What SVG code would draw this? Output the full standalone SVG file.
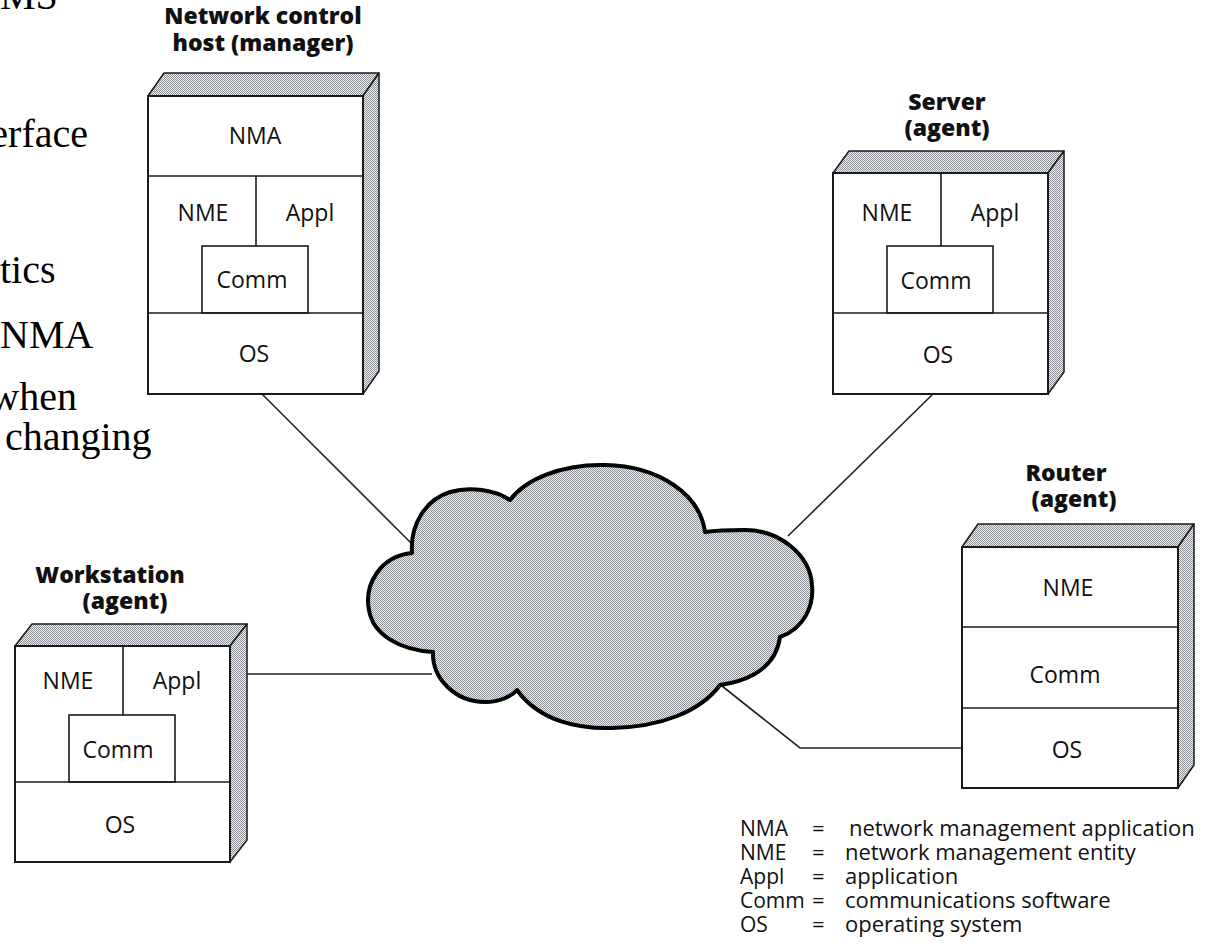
<svg xmlns="http://www.w3.org/2000/svg" width="1205" height="950" viewBox="0 0 1205 950">
<defs>
<pattern id="dots" width="2" height="2" patternUnits="userSpaceOnUse">
<rect width="2" height="2" fill="#eef0f2"/>
<rect x="0" y="0" width="1" height="1" fill="#8e9196"/>
<rect x="1" y="1" width="1" height="1" fill="#8e9196"/>
</pattern>
<style>
.face{fill:#fff;stroke:#1a1a1a;stroke-width:2}
.shade{fill:url(#dots);stroke:#1a1a1a;stroke-width:1.5;stroke-linejoin:round}
.div{stroke:#1a1a1a;stroke-width:1.6;fill:none}
.box{fill:#fff;stroke:#1a1a1a;stroke-width:1.6}
.lbl{font-family:"Open Sans","DejaVu Sans",sans-serif;font-size:23px;fill:#111;text-anchor:middle}
.ttl{font-family:"Open Sans","DejaVu Sans",sans-serif;font-size:23px;font-weight:800;fill:#111;text-anchor:middle}
.leg{font-family:"Open Sans","DejaVu Sans",sans-serif;font-size:22px;fill:#111}
.abbr{font-family:"Open Sans","DejaVu Sans",sans-serif;font-size:21px;fill:#111}
.slide{font-family:"Liberation Serif","Times New Roman",serif;font-size:40px;fill:#000}
.conn{stroke:#222;stroke-width:1.6;fill:none}
.cloud{fill:url(#dots);stroke:#000;stroke-width:4;stroke-linejoin:round}
</style>
</defs>
<rect width="1205" height="950" fill="#fff"/>

<g id="slide-text">
<text class="slide" x="0" y="9">MS</text>
<text class="slide" x="88" y="147" text-anchor="end">erface</text>
<text class="slide" x="0" y="283">tics</text>
<text class="slide" x="0" y="348">NMA</text>
<text class="slide" x="77" y="410" text-anchor="end">when</text>
<text class="slide" x="5" y="450">changing</text>
</g>

<g id="connectors">
<line class="conn" x1="262" y1="394" x2="411" y2="543"/>
<line class="conn" x1="933" y1="394" x2="788" y2="536"/>
<line class="conn" x1="247" y1="674" x2="432" y2="674"/>
<polyline class="conn" points="722,686 800,748 962,748"/>
</g>

<g id="network-cloud">
<path class="cloud" d="M 412 553 C 380 556, 364 585, 369 610 C 373 635, 400 650, 433 652 C 432 678, 455 702, 485 702 C 500 702, 512 696, 517 690 C 540 722, 580 729, 612 728 C 660 727, 700 712, 720 685 C 735 683, 775 675, 780 637 C 805 628, 814 605, 812 585 C 810 555, 780 530, 745 530 C 725 530, 712 531, 705 532 C 700 495, 660 466, 605 465 C 560 464, 525 480, 510 500 C 495 490, 470 486, 450 492 C 425 500, 410 525, 412 553 Z"/>
</g>

<g id="manager">
<text class="ttl" x="263" y="24">Network control</text>
<text class="ttl" x="263" y="51">host (manager)</text>
<polygon class="shade" points="148,96 164,73 379,73 363,96"/>
<polygon class="shade" points="363,96 379,73 379,371 363,394"/>
<rect class="face" x="148" y="96" width="215" height="298"/>
<line class="div" x1="148" y1="176" x2="363" y2="176"/>
<line class="div" x1="256" y1="176" x2="256" y2="246"/>
<rect class="box" x="202" y="246" width="106" height="67"/>
<line class="div" x1="148" y1="313" x2="363" y2="313"/>
<text class="lbl" x="255" y="144">NMA</text>
<text class="lbl" x="203" y="221">NME</text>
<text class="lbl" x="310" y="221">Appl</text>
<text class="lbl" x="252" y="288">Comm</text>
<text class="lbl" x="254" y="362">OS</text>
</g>

<g id="server">
<text class="ttl" x="947" y="110">Server</text>
<text class="ttl" x="947" y="136">(agent)</text>
<polygon class="shade" points="833,173 849,151 1064,151 1048,173"/>
<polygon class="shade" points="1048,173 1064,151 1064,372 1048,394"/>
<rect class="face" x="833" y="173" width="215" height="221"/>
<line class="div" x1="941" y1="173" x2="941" y2="246"/>
<rect class="box" x="887" y="246" width="106" height="67"/>
<line class="div" x1="833" y1="313" x2="1048" y2="313"/>
<text class="lbl" x="887" y="221">NME</text>
<text class="lbl" x="995" y="221">Appl</text>
<text class="lbl" x="936" y="289">Comm</text>
<text class="lbl" x="938" y="363">OS</text>
</g>

<g id="router">
<text class="ttl" x="1066" y="481">Router</text>
<text class="ttl" x="1074" y="507">(agent)</text>
<polygon class="shade" points="962,547 978,524 1194,524 1178,547"/>
<polygon class="shade" points="1178,547 1194,524 1194,765 1178,788"/>
<rect class="face" x="962" y="547" width="216" height="241"/>
<line class="div" x1="962" y1="627" x2="1178" y2="627"/>
<line class="div" x1="962" y1="708" x2="1178" y2="708"/>
<text class="lbl" x="1068" y="596">NME</text>
<text class="lbl" x="1065" y="683">Comm</text>
<text class="lbl" x="1067" y="758">OS</text>
</g>

<g id="workstation">
<text class="ttl" x="110" y="583">Workstation</text>
<text class="ttl" x="125" y="609">(agent)</text>
<polygon class="shade" points="15,646 32,624 247,624 230,646"/>
<polygon class="shade" points="230,646 247,624 247,840 230,862"/>
<rect class="face" x="15" y="646" width="215" height="216"/>
<line class="div" x1="123" y1="646" x2="123" y2="715"/>
<rect class="box" x="69" y="715" width="106" height="67"/>
<line class="div" x1="15" y1="782" x2="230" y2="782"/>
<text class="lbl" x="68" y="689">NME</text>
<text class="lbl" x="177" y="689">Appl</text>
<text class="lbl" x="118" y="758">Comm</text>
<text class="lbl" x="120" y="833">OS</text>
</g>

<g id="legend">
<text class="abbr" x="740" y="836">NMA</text>
<text class="leg" x="812" y="836">=</text>
<text class="leg" x="849" y="836">network management application</text>
<text class="abbr" x="740" y="860">NME</text>
<text class="leg" x="812" y="860">=</text>
<text class="leg" x="845" y="860">network management entity</text>
<text class="abbr" x="740" y="884">Appl</text>
<text class="leg" x="812" y="884">=</text>
<text class="leg" x="845" y="884">application</text>
<text class="abbr" x="740" y="908">Comm</text>
<text class="leg" x="812" y="908">=</text>
<text class="leg" x="845" y="908">communications software</text>
<text class="abbr" x="740" y="932">OS</text>
<text class="leg" x="812" y="932">=</text>
<text class="leg" x="845" y="932">operating system</text>
</g>
</svg>
